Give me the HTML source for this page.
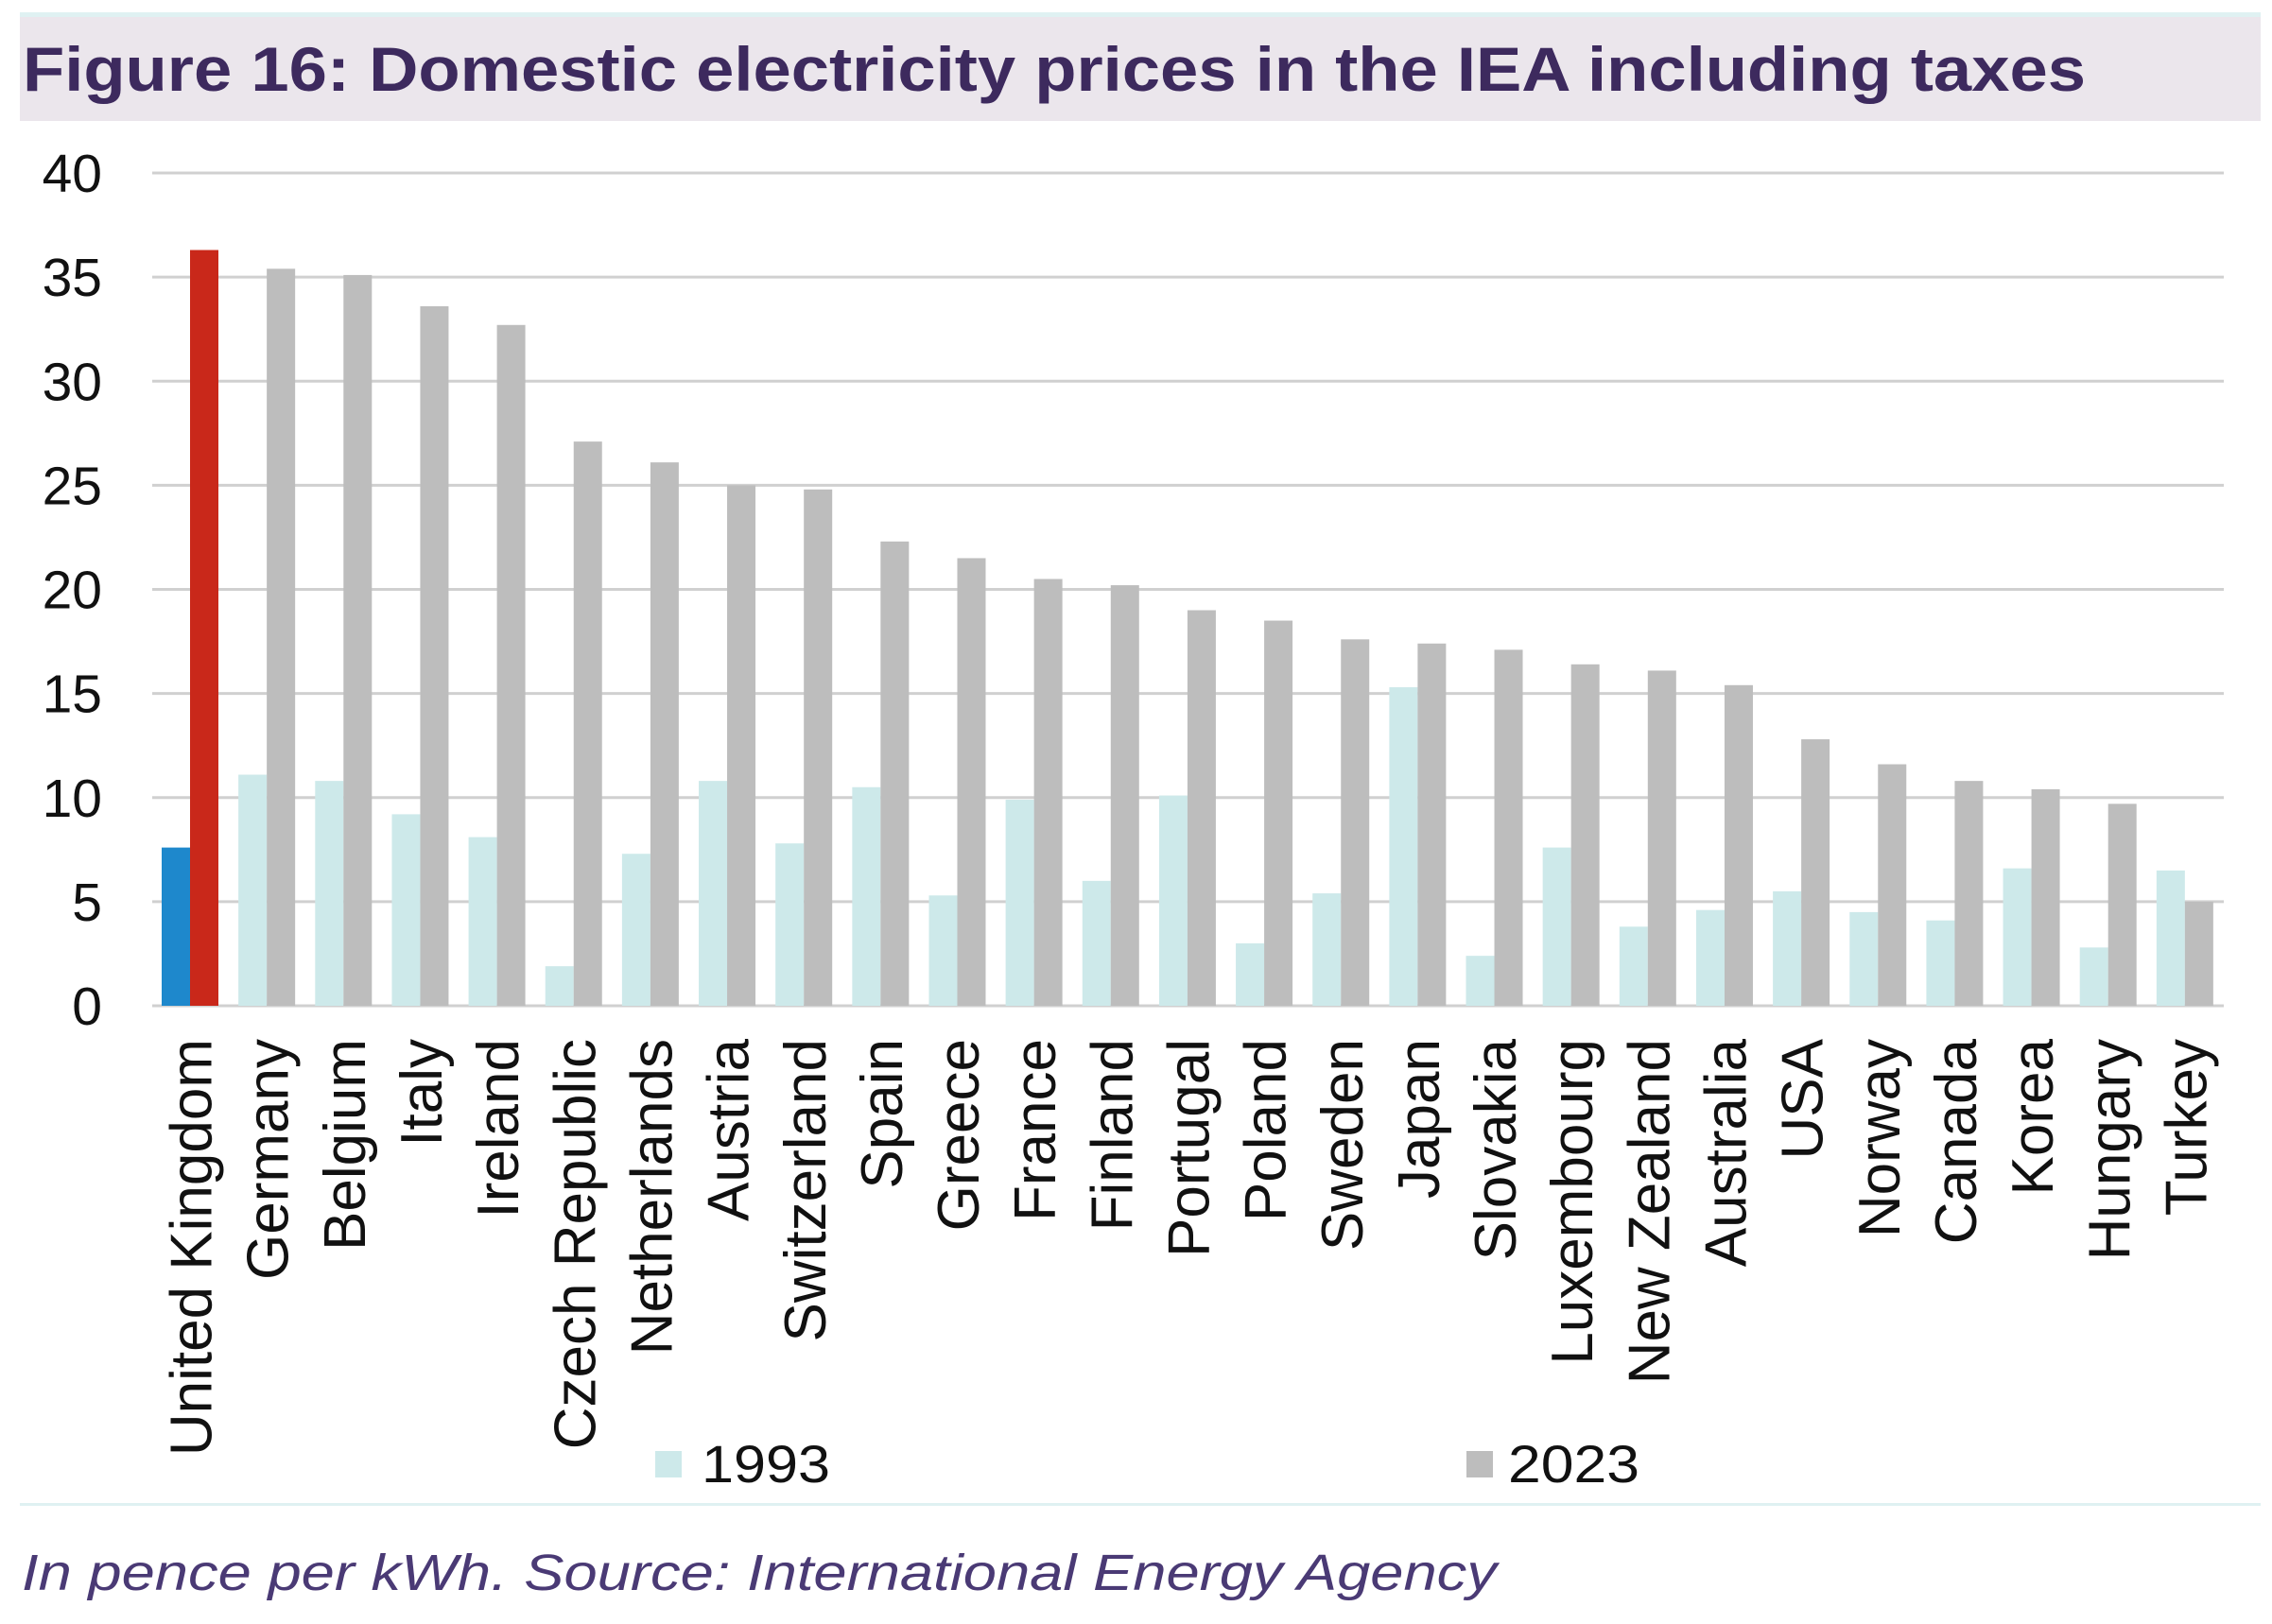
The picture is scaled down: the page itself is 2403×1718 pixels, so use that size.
<!DOCTYPE html>
<html><head><meta charset="utf-8"><style>
html,body{margin:0;padding:0;background:#fff;}
svg{display:block;font-family:"Liberation Sans",Arial,sans-serif;}
</style></head><body>
<svg id="chart" width="2403" height="1718" viewBox="0 0 2403 1718">
<rect x="21" y="13" width="2370" height="5" fill="#dff1f2"/>
<rect x="21" y="18" width="2370" height="110" fill="#ebe6ec"/>
<text x="24" y="96" font-size="66" font-weight="bold" fill="#3d2a5e" textLength="2182" lengthAdjust="spacingAndGlyphs">Figure 16: Domestic electricity prices in the IEA including taxes</text>
<g id="grid"></g>
<g id="yticks"></g>
<g id="bars"></g>
<g id="xlabels"></g>
<rect x="693" y="1535" width="28" height="28" fill="#cde9ea"/>
<text x="742" y="1568" font-size="56" fill="#111" textLength="136" lengthAdjust="spacingAndGlyphs">1993</text>
<rect x="1551" y="1535" width="28" height="28" fill="#bdbdbd"/>
<text x="1595" y="1568" font-size="56" fill="#111" textLength="139" lengthAdjust="spacingAndGlyphs">2023</text>
<rect x="21" y="1590" width="2370" height="3" fill="#dff1f2"/>
<text x="23" y="1682" font-size="54" font-style="italic" fill="#4a3a75" textLength="1560" lengthAdjust="spacingAndGlyphs">In pence per kWh. Source: International Energy Agency</text>
</svg>
<script>
const categories=["United Kingdom","Germany","Belgium","Italy","Ireland","Czech Republic","Netherlands","Austria","Switzerland","Spain","Greece","France","Finland","Portugal","Poland","Sweden","Japan","Slovakia","Luxembourg","New Zealand","Australia","USA","Norway","Canada","Korea","Hungary","Turkey"];
const values1993=[7.6,11.1,10.8,9.2,8.1,1.9,7.3,10.8,7.8,10.5,5.3,9.9,6.0,10.1,3.0,5.4,15.3,2.4,7.6,3.8,4.6,5.5,4.5,4.1,6.6,2.8,6.5];
const values2023=[36.3,35.4,35.1,33.6,32.7,27.1,26.1,25.0,24.8,22.3,21.5,20.5,20.2,19.0,18.5,17.6,17.4,17.1,16.4,16.1,15.4,12.8,11.6,10.8,10.4,9.7,5.0];
const yTicks=[0,5,10,15,20,25,30,35,40];

const NS="http://www.w3.org/2000/svg";
const left=161,right=2352,y0=1064,y40=183;
const yScale=v=>y0-(v/40)*(y0-y40);
const band=(right-left)/categories.length;
const xStart=i=>left+i*band;
function mk(tag,attrs,parent){const e=document.createElementNS(NS,tag);for(const k in attrs)e.setAttribute(k,attrs[k]);parent.appendChild(e);return e;}
const grid=document.getElementById('grid'),yt=document.getElementById('yticks'),bars=document.getElementById('bars'),xl=document.getElementById('xlabels');
yTicks.forEach(t=>{
  const y=yScale(t);
  const l=mk('line',{x1:left,x2:right,y1:y,y2:y,stroke:'#d0d0d0','stroke-width':3},grid);
  
  
  const tx=mk('text',{x:108,y:y+20,'font-size':57,'text-anchor':'end',fill:'#111'},yt);
  tx.textContent=t;
  
  
});
const bw=30;
categories.forEach((c,i)=>{
  const x=xStart(i)+10;
  const uk=i===0;
  const a=mk('rect',{x:x,y:yScale(values1993[i]),width:bw,height:y0-yScale(values1993[i]),fill:uk?'#1e88cc':'#cde9ea'},bars);
  
  
  const b=mk('rect',{x:x+bw,y:yScale(values2023[i]),width:bw,height:y0-yScale(values2023[i]),fill:uk?'#c9281a':'#bdbdbd'},bars);
  
  
  const cx=xStart(i)+band/2+22, ty=1099;
  const t=mk('text',{x:cx,y:ty,'font-size':62,'text-anchor':'end',fill:'#111',transform:`rotate(-90 ${cx} ${ty})`},xl);
  t.textContent=c;
  
  
});
</script>
</body></html>
